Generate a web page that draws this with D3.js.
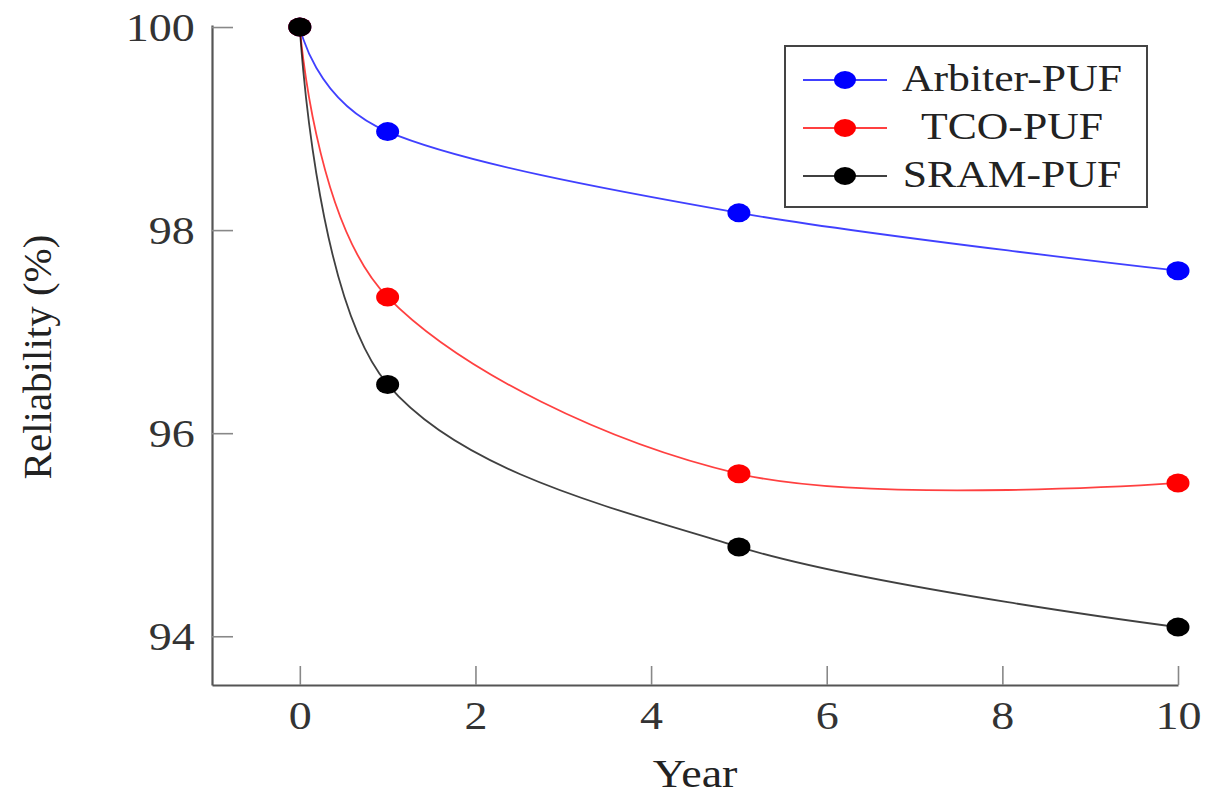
<!DOCTYPE html>
<html>
<head>
<meta charset="utf-8">
<script src="https://cdn.jsdelivr.net/npm/d3@7"></script>
<style>
  body { margin: 0; background: #fff; }
  svg { display: block; }
  svg text { font-family: "Liberation Serif", Tinos, "Times New Roman", Times, "DejaVu Serif", serif; }
</style>
</head>
<body>
<div id="chart-area"></div>
<script>
// data
var years = [0, 1, 5, 10];
var arbiterPUF = [100, 98.97, 98.17, 97.6];
var tcoPUF = [100, 97.34, 95.6, 95.51];
var sramPUF = [100, 96.48, 94.88, 94.09];
var seriesNames = ["Arbiter-PUF", "TCO-PUF", "SRAM-PUF"];
var seriesColors = ["#0000ff", "#ff0000", "#000000"];
var xTicks = [0, 2, 4, 6, 8, 10];
var yTicks = [94, 96, 98, 100];

var width = 1209;
var height = 794;
var stretch = 1.15; // the original image is a bit wider than tall

var svg = d3.select("#chart-area")
  .append("svg")
    .attr("width", width)
    .attr("height", height);

var x = d3.scaleLinear()
  .domain([-1, 10])
  .range([212, 1178]);

var y = d3.scaleLinear()
  .domain([93.52, 100.02])
  .range([685, 25]);

// axes
var bottomAxis = d3.axisBottom(x)
  .tickValues(xTicks)
  .tickFormat(d3.format("d"))
  .tickSizeInner(-19)
  .tickSizeOuter(0)
  .tickPadding(14);

var gx = svg.append("g")
  .attr("class", "x axis")
  .attr("transform", "translate(0," + y.range()[0] + ")")
  .call(bottomAxis);

var leftAxis = d3.axisLeft(y)
  .tickValues(yTicks)
  .tickFormat(d3.format("d"))
  .tickSizeInner(-21)
  .tickSizeOuter(0)
  .tickPadding(15);

var gy = svg.append("g")
  .attr("class", "y axis")
  .attr("transform", "translate(" + x.range()[0] + ",0)")
  .call(leftAxis);

[gx, gy].forEach(function(g) {
  g.attr("font-family", null);
  g.select(".domain").attr("stroke", "#555").attr("stroke-width", 2.2);
  g.selectAll(".tick line").attr("stroke", "#888").attr("stroke-width", 1.6);
  g.selectAll(".tick text")
    .attr("fill", "#333")
    .style("font-size", "40px")
    .attr("transform", "scale(" + stretch + ",1)");
});
gx.selectAll(".tick text").attr("dy", "0.75em");
gy.selectAll(".tick text").attr("dy", "0.34em");

// axis labels
svg.append("text")
  .attr("transform", "translate(37,357) rotate(-90)")
  .attr("text-anchor", "middle")
  .attr("dy", "0.35em")
  .style("font-size", "41px")
  .attr("fill", "#222")
  .text("Reliability (%)");

svg.append("text")
  .attr("transform", "translate(" + x(4.5) + ",787) scale(" + stretch + ",1)")
  .attr("text-anchor", "middle")
  .style("font-size", "40px")
  .attr("fill", "#222")
  .text("Year");

// curves
var allSeries = [arbiterPUF, tcoPUF, sramPUF];

var line = d3.line()
  .x(function(d, i) { return x(years[i]); })
  .y(function(d) { return y(d); })
  .curve(d3.curveCardinal.tension(0));

// same order as the legend, so SRAM ends up on top
allSeries.forEach(function(s, k) {
  var g = svg.append("g").attr("class", "series");
  g.append("path")
    .datum(s)
    .attr("fill", "none")
    .attr("stroke", seriesColors[k])
    .attr("stroke-opacity", 0.75)
    .attr("stroke-width", 1.8)
    .attr("d", line);
  g.selectAll("ellipse")
    .data(s)
    .enter()
    .append("ellipse")
      .attr("cx", function(d, i) { return x(years[i]); })
      .attr("cy", function(d) { return y(d); })
      .attr("rx", 11.5)
      .attr("ry", 9.5)
      .attr("fill", seriesColors[k]);
});

// legend
var legend = svg.append("g").attr("class", "legend");

legend.append("rect")
  .attr("x", 785)
  .attr("y", 46)
  .attr("width", 362)
  .attr("height", 161)
  .attr("fill", "#fff")
  .attr("stroke", "#444")
  .attr("stroke-width", 2);

var rowY = [80, 128, 176];

seriesNames.forEach(function(name, k) {
  var row = legend.append("g");
  row.append("line")
    .attr("x1", 803).attr("x2", 887)
    .attr("y1", rowY[k]).attr("y2", rowY[k])
    .attr("stroke", seriesColors[k])
    .attr("stroke-opacity", 0.75)
    .attr("stroke-width", 1.8);
  row.append("ellipse")
    .attr("cx", 845)
    .attr("cy", rowY[k])
    .attr("rx", 11)
    .attr("ry", 9)
    .attr("fill", seriesColors[k]);
  row.append("text")
    .attr("transform", "translate(1012," + (rowY[k] + 11) + ") scale(" + stretch + ",1)")
    .attr("text-anchor", "middle")
    .style("font-size", "38px")
    .attr("fill", "#222")
    .text(name);
});
</script>
</body>
</html>
